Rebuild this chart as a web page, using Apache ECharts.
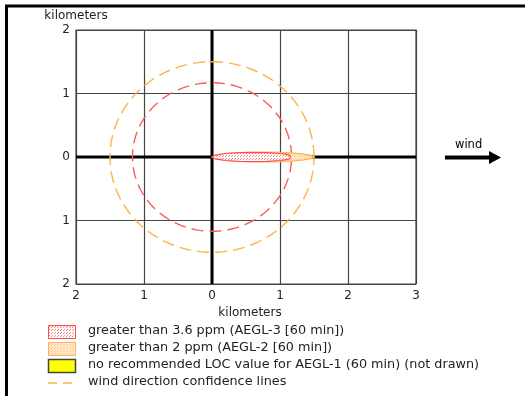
<!DOCTYPE html>
<html>
<head>
<meta charset="utf-8">
<script src="https://cdn.jsdelivr.net/npm/echarts@6/dist/echarts.min.js"></script>
<style>
html,body{margin:0;padding:0;background:#fff;}
#chart{width:525px;height:396px;}
</style>
</head>
<body>
<div id="chart"></div>
<script>
// ---- data ----
const xTicks = [-2, -1, 0, 1, 2, 3];
const yTicks = [-2, -1, 0, 1, 2];
const axisTitle = 'kilometers';
// confidence circle radii (km): AEGL-3 zone (red), AEGL-2 zone (orange)
const circleRadiusRed = 1.17;
const circleRadiusOrange = 1.5;
// plume outlines: downwind distance (km) and half-width (km)
const plumeRedX =  [0, 0.05, 0.2, 0.4, 0.6, 0.8, 1.0, 1.1, 1.15, 1.15];
const plumeRedHW = [0, 0.03, 0.055, 0.068, 0.072, 0.068, 0.055, 0.04, 0.025, 0];
const plumeOrangeX =  [0, 0.05, 0.2, 0.4, 0.6, 0.8, 1.0, 1.2, 1.35, 1.45, 1.5];
const plumeOrangeHW = [0, 0.03, 0.055, 0.068, 0.075, 0.078, 0.075, 0.062, 0.045, 0.025, 0];
const legendLabels = [
  'greater than 3.6 ppm (AEGL-3 [60 min])',
  'greater than 2 ppm (AEGL-2 [60 min])',
  'no recommended LOC value for AEGL-1 (60 min) (not drawn)',
  'wind direction confidence lines'
];
const windLabel = 'wind';

const FONT = 'DejaVu Sans';
const chart = echarts.init(document.getElementById('chart'));

function dotPattern(bg, dot) {
  const c = document.createElement('canvas');
  c.width = 3; c.height = 3;
  const g = c.getContext('2d');
  g.fillStyle = bg; g.fillRect(0, 0, 3, 3);
  g.fillStyle = dot; g.fillRect(0, 0, 1, 1); g.fillRect(1, 2, 1, 1);
  return { image: c, repeat: 'repeat' };
}
const redPattern = dotPattern('#ffffff', '#ff8080');
const orangePattern = dotPattern('#ffe8cc', '#ffc890');

function circleSeries(r, color) {
  return {
    type: 'custom',
    data: [[0, 0, r]],
    silent: true,
    z: 3,
    renderItem: function (params, api) {
      const c = api.coord([0, 0]);
      const s = api.size([r, r]);
      const pts = [];
      for (let i = 0; i <= 160; i++) {
        const a = i / 160 * Math.PI * 2;
        pts.push([c[0] + s[0] * Math.cos(a), c[1] - s[1] * Math.sin(a)]);
      }
      return {
        type: 'polyline',
        shape: { points: pts },
        style: { stroke: color, fill: null, lineWidth: 1.4, lineDash: [12, 6] }
      };
    }
  };
}

function plumeSeries(xs, hws, fill, stroke, z) {
  return {
    type: 'custom',
    data: xs.map((x, i) => [x, hws[i]]),
    silent: true,
    z: z,
    renderItem: function (params, api) {
      if (params.dataIndex !== 0) return;
      const pts = [];
      for (let i = 0; i < xs.length; i++) pts.push(api.coord([xs[i], hws[i]]));
      for (let i = xs.length - 1; i >= 0; i--) pts.push(api.coord([xs[i], -hws[i]]));
      return {
        type: 'polygon',
        shape: { points: pts },
        style: { fill: fill, stroke: stroke, lineWidth: 1.2 }
      };
    }
  };
}

const lblColor = '#222';
const option = {
  animation: false,
  backgroundColor: '#fff',
  grid: { left: 76, right: 109, top: 30, bottom: 112, show: true, borderColor: '#444', borderWidth: 1.2 },
  xAxis: {
    type: 'value', min: xTicks[0], max: xTicks[xTicks.length - 1], interval: 1,
    name: axisTitle, nameLocation: 'middle', nameGap: 18,
    nameTextStyle: { fontFamily: FONT, fontSize: 12, color: lblColor, padding: [0, 0, 0, 8] },
    axisLine: { show: false, onZero: false },
    axisTick: { show: false },
    axisLabel: { fontFamily: FONT, fontSize: 12, color: lblColor, margin: 6, formatter: v => String(Math.abs(v)) },
    splitLine: { show: true, lineStyle: { color: '#444', width: 1.2 } }
  },
  yAxis: {
    type: 'value', min: yTicks[0], max: yTicks[yTicks.length - 1], interval: 1,
    name: axisTitle, nameLocation: 'end', nameGap: 8,
    nameTextStyle: { fontFamily: FONT, fontSize: 12, color: lblColor, align: 'center' },
    axisLine: { show: false, onZero: false },
    axisTick: { show: false },
    axisLabel: { fontFamily: FONT, fontSize: 12, color: lblColor, margin: 6, formatter: v => String(Math.abs(v)) },
    splitLine: { show: true, lineStyle: { color: '#444', width: 1.2 } }
  },
  series: [
    { type: 'line', data: [[xTicks[0], 0], [xTicks[xTicks.length - 1], 0]], symbol: 'none', silent: true, z: 2,
      lineStyle: { color: '#000', width: 3 } },
    { type: 'line', data: [[0, yTicks[0]], [0, yTicks[yTicks.length - 1]]], symbol: 'none', silent: true, z: 2,
      lineStyle: { color: '#000', width: 3 } },
    circleSeries(circleRadiusOrange, '#ffb347'),
    circleSeries(circleRadiusRed, '#ff5a5a'),
    plumeSeries(plumeOrangeX, plumeOrangeHW, orangePattern, '#ffb050', 4),
    plumeSeries(plumeRedX, plumeRedHW, redPattern, '#ff4d4d', 5)
  ],
  graphic: [
    // frame
    { type: 'line', shape: { x1: 5, y1: 6, x2: 525, y2: 6 }, style: { stroke: '#000', lineWidth: 3 } },
    { type: 'line', shape: { x1: 6.5, y1: 5, x2: 6.5, y2: 396 }, style: { stroke: '#000', lineWidth: 3 } },
    // wind arrow
    { type: 'text', left: 455, top: 139, style: { text: windLabel, font: '11.5px ' + FONT, fill: '#000' } },
    { type: 'line', shape: { x1: 445, y1: 157.5, x2: 492, y2: 157.5 }, style: { stroke: '#000', lineWidth: 4 } },
    { type: 'polygon', shape: { points: [[489, 151], [501, 157.5], [489, 164]] }, style: { fill: '#000' } },
    // legend
    { type: 'rect', shape: { x: 48.5, y: 325.5, width: 27, height: 13 }, style: { fill: redPattern, stroke: '#ff4d4d', lineWidth: 1 } },
    { type: 'rect', shape: { x: 48.5, y: 342.5, width: 27, height: 13 }, style: { fill: orangePattern, stroke: '#ffb060', lineWidth: 1 } },
    { type: 'rect', shape: { x: 48.5, y: 359.5, width: 27, height: 13 }, style: { fill: '#ffff00', stroke: '#444', lineWidth: 1.5 } },
    { type: 'line', shape: { x1: 48, y1: 383, x2: 76, y2: 383 }, style: { stroke: '#ffb347', lineWidth: 1.3, lineDash: [9, 6] } },
    { type: 'text', left: 88, top: 324, style: { text: legendLabels[0], font: '12.8px ' + FONT, fill: '#222' } },
    { type: 'text', left: 88, top: 341, style: { text: legendLabels[1], font: '12.8px ' + FONT, fill: '#222' } },
    { type: 'text', left: 88, top: 358, style: { text: legendLabels[2], font: '12.8px ' + FONT, fill: '#222' } },
    { type: 'text', left: 88, top: 375, style: { text: legendLabels[3], font: '12.8px ' + FONT, fill: '#222' } }
  ]
};
chart.setOption(option);
</script>
</body>
</html>
